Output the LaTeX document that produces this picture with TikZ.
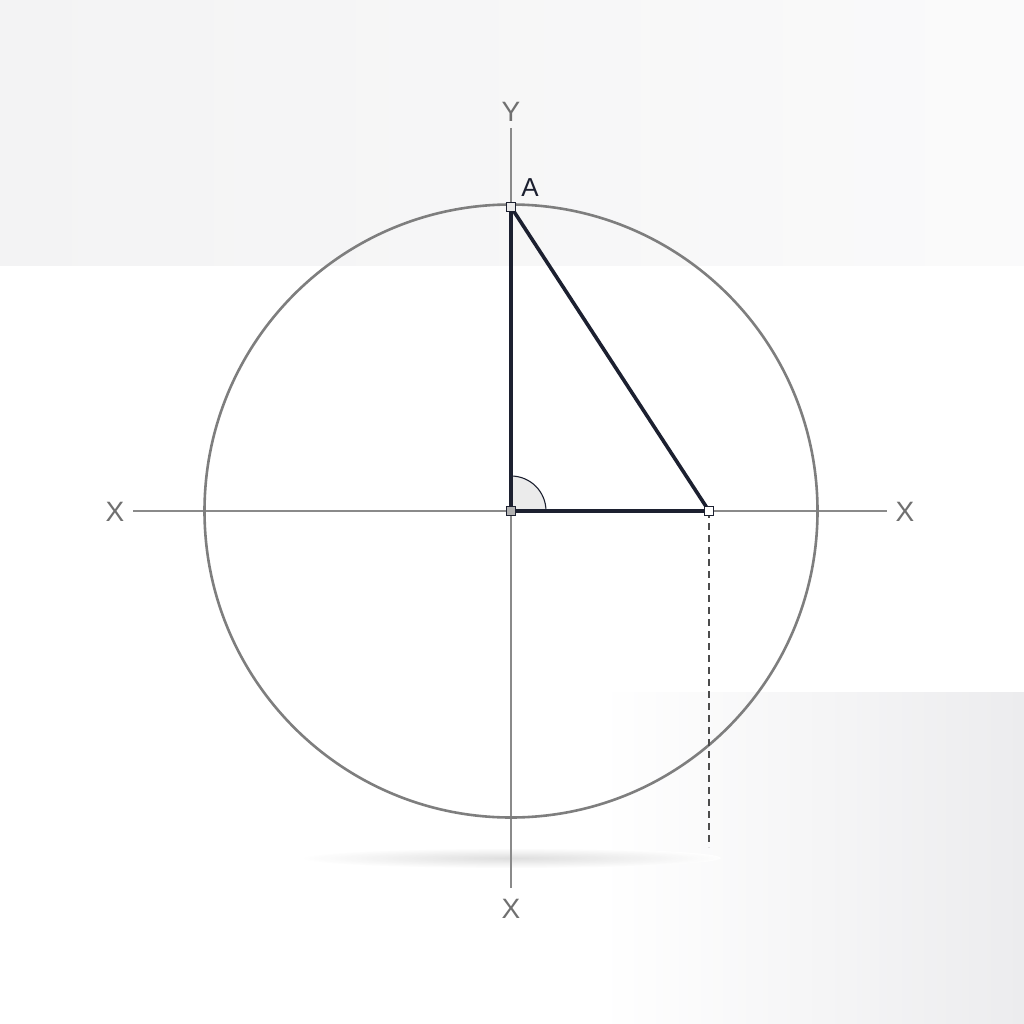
\documentclass[tikz,border=0pt]{standalone}
\usepackage{fontspec}
\setmainfont{Liberation Sans}
\usetikzlibrary{calc}
\definecolor{navy}{HTML}{1C2030}
\definecolor{circgray}{HTML}{7E7E7E}
\definecolor{axisgray}{HTML}{8A8A8A}
\definecolor{labgray}{HTML}{707070}
\definecolor{panelA}{HTML}{F3F3F4}
\definecolor{panelB}{HTML}{ECECEE}
\tikzset{
  axisline/.style={draw=axisgray, line width=1.5pt},
  circline/.style={draw=circgray, line width=2.6pt},
  triline/.style={draw=navy, line width=3.6pt, line join=round},
  marker/.style={draw=navy, line width=1.3pt, rectangle, minimum size=9.5pt, inner sep=0pt},
  axislabel/.style={text=labgray, font=\fontsize{28}{30}\selectfont, inner sep=0pt},
  ptlabel/.style={text=navy, font=\fontsize{26}{28}\selectfont, inner sep=0pt},
  dashline/.style={draw=black!70, line width=1.1pt, dash pattern=on 7pt off 5pt}
}
\begin{document}
\begin{tikzpicture}[x=1pt,y=-1pt]
\useasboundingbox (0,0) rectangle (1024,1024);
% background
\fill[white] (0,0) rectangle (1024,1024);
\shade[left color=panelA, right color=white!60!panelA] (0,0) rectangle (1024,265);
\shade[left color=white, right color=panelB] (600,692) rectangle (1024,1024);
% soft shadow
\shade[inner color=black!16, outer color=white, opacity=0.8] (511,858) ellipse [x radius=210, y radius=10];
% axes
\coordinate (O) at (511,511);
\coordinate (Xl) at (133,511);
\coordinate (Xr) at (887,511);
\coordinate (Yt) at (511,128);
\coordinate (Yb) at (511,888);
\draw[axisline] (Xl) -- (Xr);
\draw[axisline] (Yt) -- (Yb);
% circle
\draw[circline] (O) circle [radius=306.5];
% dashed projection
\coordinate (Bproj) at (709,847);
\coordinate (B) at (709,511);
\coordinate (A) at (511,207);
\draw[dashline] (B) -- (Bproj);
% angle mark
\filldraw[fill=black!8, draw=navy, line width=1.1pt] (O) -- ++(35,0) arc[start angle=0, end angle=-90, radius=35] -- cycle;
% triangle
\draw[triline] (A) -- (O) -- (B) -- cycle;
% markers
\node[marker, fill=black!30] (mO) at (O) {};
\node[marker, fill=black!8] (mA) at (A) {};
\node[marker, fill=white] (mB) at (B) {};
% labels
\node[axislabel] (ly) at (511,112) {Y};
\node[axislabel] (lxl) at (115,512) {X};
\node[axislabel] (lxr) at (905,512) {X};
\node[axislabel] (lxb) at (511,909) {X};
\node[ptlabel] (la) at (530,188) {A};
\end{tikzpicture}
\end{document}
